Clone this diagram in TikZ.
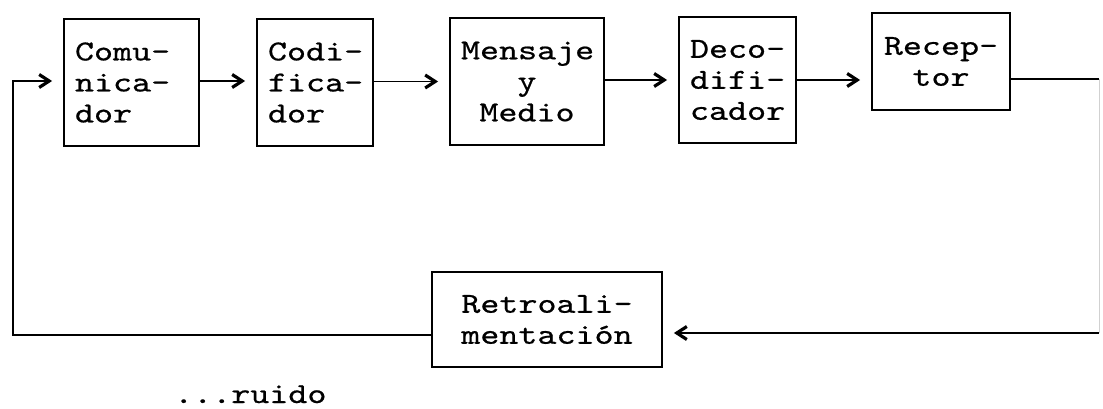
\documentclass[tikz,border=0pt]{standalone}
\usepackage{fontspec}
\setmonofont[FakeStretch=1.25,FakeBold=0.6]{lmmono10-regular.otf}
\usetikzlibrary{arrows.meta}
\tikzset{
  txt/.style={font=\ttfamily\fontsize{29}{31}\selectfont},
  blk/.style={draw, line width=1.8pt, inner ysep=0pt, inner xsep=11pt, txt, anchor=center},
  conn/.style={line width=1.8pt},
  arr/.style={line width=1.8pt, -{Straight Barb[length=10pt,width=13pt,line width=3.2pt]}, shorten >=11pt},
  faint/.style={line width=1pt, draw=black!18}
}
\begin{document}
\begin{tikzpicture}[x=1pt,y=-1pt]
\useasboundingbox (0,0) rectangle (1103,409);
\node[blk, minimum width=135pt, minimum height=127pt, text width=113pt, align=left] (com) at (131.5,82.5) {Comu-\\nica-\\dor};
\node[blk, minimum width=116pt, minimum height=127pt, text width=94pt, align=left] (cod) at (315,82.5) {Codi-\\fica-\\dor};
\node[blk, minimum width=154pt, minimum height=127pt, text width=132pt, align=center] (men) at (527,81.5) {Mensaje\\y\\Medio};
\node[blk, minimum width=117pt, minimum height=126pt, text width=95pt, align=left] (deco) at (737.5,80) {Deco-\\difi-\\cador};
\node[blk, minimum width=138pt, minimum height=97pt, text width=116pt, align=center] (rec) at (941,61.5) {Recep-\\tor};
\node[blk, minimum width=230pt, minimum height=95pt, text width=208pt, align=center] (ret) at (547,319.5) {Retroali-\\mentación};
\node[txt, anchor=base west, inner sep=0pt] (ruido) at (174,403) {...ruido};
\coordinate (lb) at (13,335);
\coordinate (lt) at (13,81);
\coordinate (rt) at (1099,79);
\coordinate (rb) at (1099,333);
% forward chain
\draw[arr] (com.east |- lt) -- (cod.west |- lt);
\draw[arr] (cod.east |- men.center) -- (men.west);
\draw[arr] (men.east |- deco.center) -- (deco.west);
\draw[arr] (deco.east) -- (deco.east -| rec.west);
% feedback loop
\draw[conn] (rec.east |- rt) -- (rt);
\draw[faint] (rt) -- (rb);
\draw[arr] (rb) -- (ret.east |- rb);
\draw[arr] (ret.west |- lb) -- (lb) -- (lt) -- (com.west |- lt);
\end{tikzpicture}
\end{document}
